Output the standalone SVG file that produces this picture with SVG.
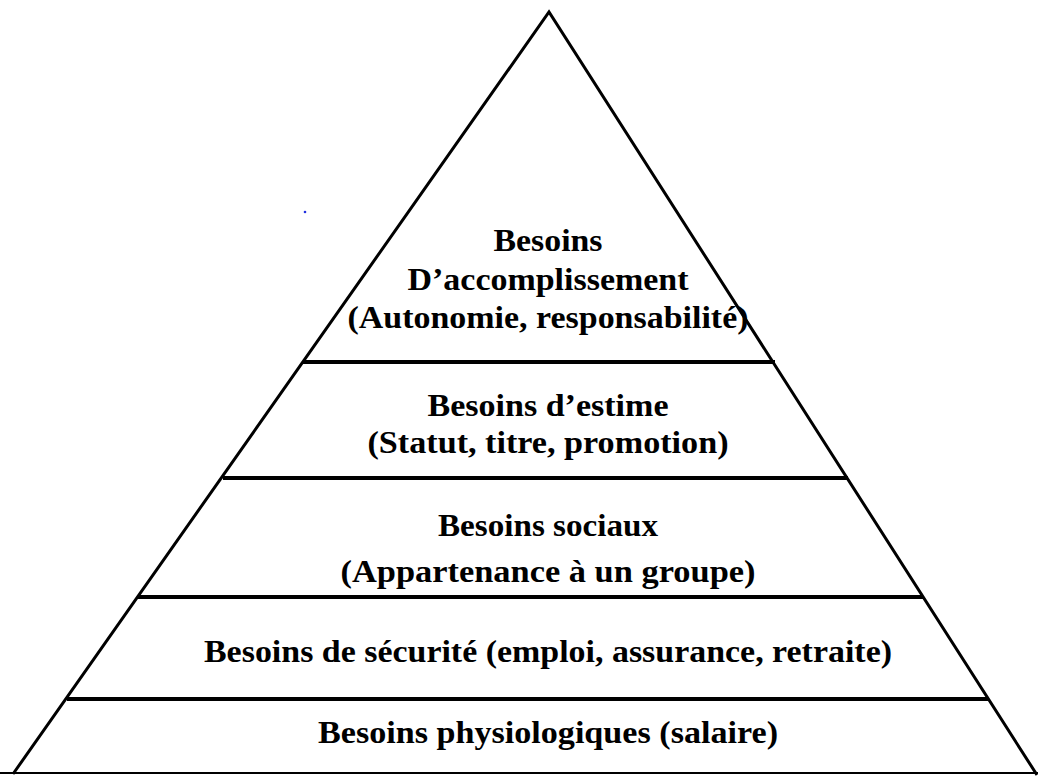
<svg xmlns="http://www.w3.org/2000/svg" width="1038" height="776" viewBox="0 0 1038 776">
<style>
.side{stroke:#000;stroke-width:3;fill:none;stroke-linecap:butt}
.lvl{stroke:#000;stroke-width:4}
.t{font-family:"Liberation Serif","Times New Roman",serif;font-weight:bold;font-size:32px;fill:#000;text-anchor:middle}
</style>
<rect width="1038" height="776" fill="#fff"/>
<g id="connectors">
<polyline class="side" points="13,774 549,12 1037,775"/>
<line x1="0" y1="773" x2="1038" y2="773" stroke="#000" stroke-width="2"/>
<line class="lvl" x1="303" y1="362" x2="775" y2="362"/>
<line class="lvl" x1="223" y1="478" x2="848" y2="478"/>
<line class="lvl" x1="138" y1="597" x2="923" y2="597"/>
<line class="lvl" x1="67" y1="699" x2="989" y2="699"/>
</g>
<circle cx="305" cy="212" r="1.3" fill="#2030e0"/>
<g id="level-accomplissement">
<text class="t" x="548" y="251" textLength="109" lengthAdjust="spacingAndGlyphs">Besoins</text>
<text class="t" x="548" y="290" textLength="281" lengthAdjust="spacingAndGlyphs">D’accomplissement</text>
<text class="t" x="548" y="328" textLength="401" lengthAdjust="spacingAndGlyphs">(Autonomie, responsabilité)</text>
</g>
<g id="level-estime">
<text class="t" x="548" y="416" textLength="241" lengthAdjust="spacingAndGlyphs">Besoins d’estime</text>
<text class="t" x="548" y="453" textLength="361" lengthAdjust="spacingAndGlyphs">(Statut, titre, promotion)</text>
</g>
<g id="level-sociaux">
<text class="t" x="548" y="536" textLength="220" lengthAdjust="spacingAndGlyphs">Besoins sociaux</text>
<text class="t" x="548" y="582" textLength="415" lengthAdjust="spacingAndGlyphs">(Appartenance à un groupe)</text>
</g>
<g id="level-securite">
<text class="t" x="548" y="662" textLength="688" lengthAdjust="spacingAndGlyphs">Besoins de sécurité (emploi, assurance, retraite)</text>
</g>
<g id="level-physiologiques">
<text class="t" x="548" y="743" textLength="460" lengthAdjust="spacingAndGlyphs">Besoins physiologiques (salaire)</text>
</g>
</svg>
